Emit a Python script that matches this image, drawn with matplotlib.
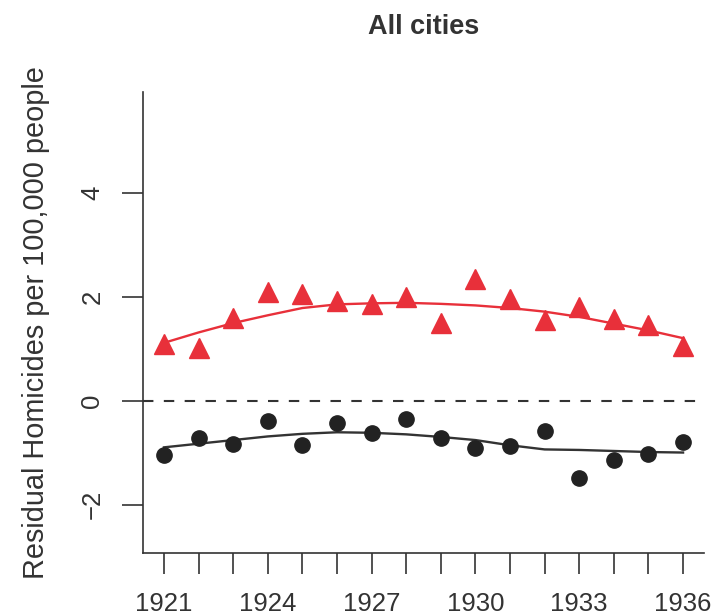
import matplotlib
matplotlib.use("Agg")
import matplotlib.pyplot as plt
import numpy as np

plt.rcParams['font.family'] = ['Liberation Sans', 'DejaVu Sans']

years = np.arange(1921, 1937)

# residuals per year
red_points = [1.08, 1.02, 1.59, 2.09, 2.05, 1.91, 1.86, 1.99,
              1.49, 2.33, 1.95, 1.55, 1.80, 1.57, 1.45, 1.05]
black_points = [-1.04, -0.72, -0.84, -0.40, -0.86, -0.43, -0.62, -0.36,
                -0.72, -0.92, -0.88, -0.59, -1.49, -1.15, -1.02, -0.80]

# smoothed trend lines
red_smooth = [1.11, 1.31, 1.49, 1.64, 1.78, 1.85, 1.87, 1.88,
              1.86, 1.83, 1.78, 1.71, 1.61, 1.48, 1.35, 1.20]
black_smooth = [-0.90, -0.83, -0.76, -0.69, -0.64, -0.61, -0.62, -0.65,
                -0.70, -0.76, -0.86, -0.94, -0.95, -0.97, -0.99, -1.00]

ytick_vals = [-2, 0, 2, 4]
xtick_labels = [1921, 1924, 1927, 1930, 1933, 1936]

txt = '#333333'
red = '#e8303a'
dark = '#222222'

fig = plt.figure(figsize=(7.16, 6.15), dpi=100)
ax = fig.add_axes([0.2, 0.101, 0.783, 0.749])

ax.axhline(0, color='#333333', lw=1.5, ls=(0, (5, 5)), zorder=1)
ax.plot(years, red_smooth, color=red, lw=1.7, zorder=2)
ax.plot(years, black_smooth, color='#333333', lw=1.7, zorder=2)
ax.plot(years, red_points, ls='none', marker='^', ms=14, color=red,
        mec=red, zorder=3)
ax.plot(years, black_points, ls='none', marker='o', ms=11, color=dark,
        mec=dark, zorder=3)

ax.set_xlim(1920.4, 1936.6)
ax.set_ylim(-2.93, 5.93)

for s in ['top', 'right']:
    ax.spines[s].set_visible(False)
for s in ['left', 'bottom']:
    ax.spines[s].set_color('#333333')
    ax.spines[s].set_linewidth(1.2)

ax.set_xticks(years)
ax.set_xticklabels([str(y) if y in xtick_labels else '' for y in years])
ax.set_yticks(ytick_vals)
ax.set_yticklabels([str(v).replace('-', '\u2212') for v in ytick_vals],
                   rotation=90, va='center')
ax.tick_params(axis='both', length=15, width=1.2, color='#333333',
               labelcolor=txt, labelsize=18.5)
ax.tick_params(axis='x', pad=13)
ax.tick_params(axis='y', pad=13)

ax.set_ylabel('Residual Homicides per 100,000 people', fontsize=20.8,
              color=txt, labelpad=22)
ax.set_title('All cities', fontsize=19.5, fontweight='bold', color=txt,
             pad=42)

fig.savefig('out.png', dpi=100)
